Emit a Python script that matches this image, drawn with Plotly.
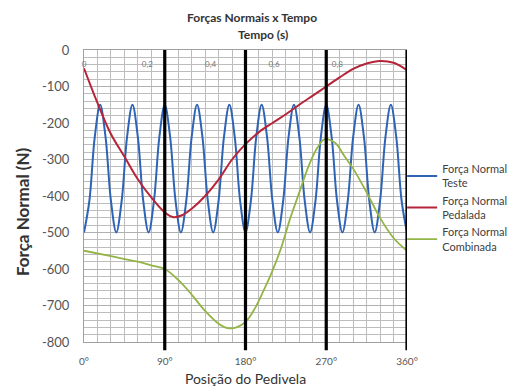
import plotly.graph_objects as go

# Crank position (degrees) for each series
ang_teste = [0, 6, 12, 18, 24, 30, 36, 42, 48, 54, 60, 66, 72, 78, 84, 90, 96, 102, 108, 114,
             120, 126, 132, 138, 144, 150, 156, 162, 168, 174, 180, 186, 192, 198, 204, 210, 216,
             222, 228, 234, 240, 246, 252, 258, 264, 270, 276, 282, 288, 294, 300, 306, 312, 318,
             324, 330, 336, 342, 348, 354, 360]
forca_teste = [-500, -413, -238, -150, -238, -413, -500, -413, -238, -150, -238, -413, -500,
               -413, -238, -150, -238, -413, -500, -413, -238, -150, -238, -413, -500, -413,
               -238, -150, -238, -413, -500, -413, -238, -150, -238, -413, -500, -413, -238,
               -150, -238, -413, -500, -413, -238, -150, -238, -413, -500, -413, -238, -150,
               -238, -413, -500, -413, -238, -150, -238, -413, -500]

ang_pedal = [0, 15, 30, 45, 60, 75, 90, 100, 110, 120, 135, 150, 165, 180, 195, 210, 225,
             240, 255, 270, 285, 300, 315, 330, 345, 360]
forca_pedal = [-50, -145, -230, -292, -354, -404, -445, -458, -452, -435, -400, -355, -300,
               -258, -225, -200, -176, -150, -125, -100, -75, -52, -37, -30, -35, -55]

ang_comb = [0, 30, 60, 75, 90, 105, 120, 135, 150, 160, 170, 180, 190, 200, 210, 220, 230,
            240, 250, 260, 268, 280, 290, 300, 315, 330, 345, 360]
forca_comb = [-550, -565, -580, -590, -600, -630, -670, -715, -750, -762, -760, -745, -710,
              -660, -605, -540, -460, -390, -320, -268, -245, -255, -290, -325, -390, -460,
              -515, -550]

y_ticks = [0, -100, -200, -300, -400, -500, -600, -700, -800]
y_labels = ["0", "-100", "-200", "-300", "-400", "-500", "-600", "-700", "-800"]
x_ticks = [0, 90, 180, 270, 360]
x_labels = ["0°", "90°", "180°", "270°", "360°"]
t_ticks = [0, 0.2, 0.4, 0.6, 0.8]
t_labels = ["0", "0,2", "0,4", "0,6", "0,8"]

FONT = "Lato, 'Open Sans', sans-serif"

fig = go.Figure()

fig.add_trace(go.Scatter(x=ang_teste, y=forca_teste, mode="lines", line_shape="spline",
                         line=dict(color="#2e63b5", width=2),
                         name="Força Normal<br>Teste"))
fig.add_trace(go.Scatter(x=ang_pedal, y=forca_pedal, mode="lines", line_shape="spline",
                         line=dict(color="#b52438", width=2),
                         name="Força Normal<br>Pedalada"))
fig.add_trace(go.Scatter(x=ang_comb, y=forca_comb, mode="lines", line_shape="spline",
                         line=dict(color="#93b447", width=1.8),
                         name="Força Normal<br>Combinada"))
# invisible trace so the secondary time axis is drawn
fig.add_trace(go.Scatter(x=[0, 1.02], y=[None, None], xaxis="x2", mode="lines",
                         showlegend=False, hoverinfo="skip"))

# heavy quadrant lines at every 90°
for a in x_ticks[1:]:
    fig.add_shape(type="line", xref="x", yref="paper", x0=a, x1=a, y0=-0.028, y1=1,
                  line=dict(color="black", width=3.2), layer="above")

fig.update_layout(
    width=513, height=389,
    margin=dict(l=84, r=106, t=50, b=47, autoexpand=False),
    paper_bgcolor="white", plot_bgcolor="white",
    font=dict(family=FONT, color="#404040"),
    showlegend=True,
    legend=dict(x=0.985, y=0.64, xanchor="left", yanchor="top",
                font=dict(size=11, color="#404040"), tracegroupgap=0,
                bgcolor="rgba(0,0,0,0)"),
    xaxis=dict(range=[0, 360], tickvals=x_ticks, ticktext=x_labels,
               tickfont=dict(size=10, color="#555555"), ticks="",
               ticklabelstandoff=10, ticklabeloverflow="allow",
               showgrid=True, gridcolor="#b0b0b0", gridwidth=1,
               minor=dict(dtick=15, showgrid=True, gridcolor="#bdbdbd", gridwidth=1),
               zeroline=False, showline=True, linecolor="#a0a0a0",
               title=dict(text="Posição do Pedivela", font=dict(size=14, color="#333333"),
                          standoff=8)),
    xaxis2=dict(range=[0, 1.02], overlaying="x", side="top", tickvals=t_ticks,
                ticktext=t_labels, ticklabelposition="inside", ticks="",
                ticklabelstandoff=10, ticklabeloverflow="allow",
                tickfont=dict(size=8, color="#777777"), showgrid=False, zeroline=False,
                showline=True, linecolor="#a0a0a0"),
    yaxis=dict(range=[-800, 0], tickvals=y_ticks, ticktext=y_labels,
               tickfont=dict(size=13, color="#555555"), ticklabelstandoff=11,
               showgrid=True, gridcolor="#b0b0b0", gridwidth=1,
               minor=dict(dtick=20, showgrid=True, gridcolor="#bdbdbd", gridwidth=1),
               zeroline=False, showline=True, linecolor="#a0a0a0", ticks=""),
    annotations=[
        dict(text="<b>Forças Normais x Tempo</b>", xref="paper", yref="paper",
             x=0.52, y=1.0, yshift=33, yanchor="middle", showarrow=False,
             font=dict(size=12, color="#333333")),
        dict(text="<b>Tempo (s)</b>", xref="paper", yref="paper",
             x=0.555, y=1.0, yshift=16, yanchor="middle", showarrow=False,
             font=dict(size=12, color="#333333")),
        dict(text="<b>Força Normal (N)</b>", xref="paper", yref="paper",
             x=0, xshift=-62, y=0.445, textangle=-90, xanchor="center", yanchor="middle",
             showarrow=False, font=dict(size=17, color="#333333")),
    ],
)

fig.write_html("out.html")
